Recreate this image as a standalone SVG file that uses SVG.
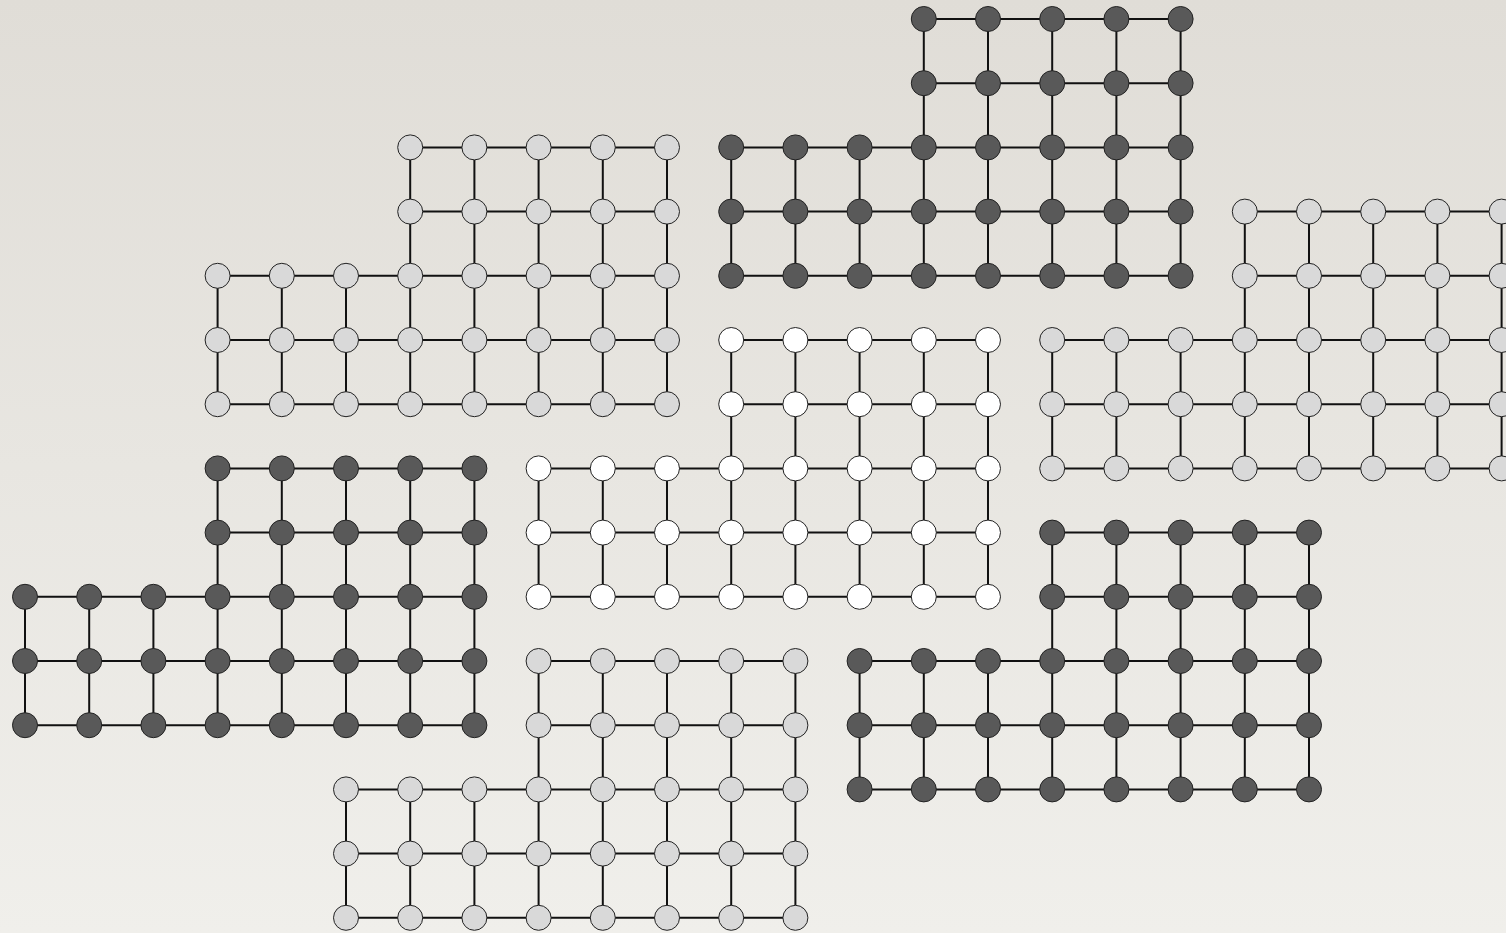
<svg xmlns="http://www.w3.org/2000/svg" xmlns:xlink="http://www.w3.org/1999/xlink" width="1506" height="933" viewBox="0 0 1506 933">
<defs>
<linearGradient id="bg" x1="0" y1="0" x2="0" y2="1">
<stop offset="0" stop-color="#e0ddd7"/>
<stop offset="1" stop-color="#f0efeb"/>
</linearGradient>
<path id="lat" d="M192.6 0H449.4M192.6 64.2H449.4M0 128.4H449.4M0 192.6H449.4M0 256.8H449.4M0 128.4V256.8M64.2 128.4V256.8M128.4 128.4V256.8M192.6 0V256.8M256.8 0V256.8M321 0V256.8M385.2 0V256.8M449.4 0V256.8"/>
<g id="nodes">
<circle cx="192.6" cy="0" r="12.5"/><circle cx="256.8" cy="0" r="12.5"/><circle cx="321" cy="0" r="12.5"/><circle cx="385.2" cy="0" r="12.5"/><circle cx="449.4" cy="0" r="12.5"/>
<circle cx="192.6" cy="64.2" r="12.5"/><circle cx="256.8" cy="64.2" r="12.5"/><circle cx="321" cy="64.2" r="12.5"/><circle cx="385.2" cy="64.2" r="12.5"/><circle cx="449.4" cy="64.2" r="12.5"/>
<circle cx="0" cy="128.4" r="12.5"/><circle cx="64.2" cy="128.4" r="12.5"/><circle cx="128.4" cy="128.4" r="12.5"/><circle cx="192.6" cy="128.4" r="12.5"/><circle cx="256.8" cy="128.4" r="12.5"/><circle cx="321" cy="128.4" r="12.5"/><circle cx="385.2" cy="128.4" r="12.5"/><circle cx="449.4" cy="128.4" r="12.5"/>
<circle cx="0" cy="192.6" r="12.5"/><circle cx="64.2" cy="192.6" r="12.5"/><circle cx="128.4" cy="192.6" r="12.5"/><circle cx="192.6" cy="192.6" r="12.5"/><circle cx="256.8" cy="192.6" r="12.5"/><circle cx="321" cy="192.6" r="12.5"/><circle cx="385.2" cy="192.6" r="12.5"/><circle cx="449.4" cy="192.6" r="12.5"/>
<circle cx="0" cy="256.8" r="12.5"/><circle cx="64.2" cy="256.8" r="12.5"/><circle cx="128.4" cy="256.8" r="12.5"/><circle cx="192.6" cy="256.8" r="12.5"/><circle cx="256.8" cy="256.8" r="12.5"/><circle cx="321" cy="256.8" r="12.5"/><circle cx="385.2" cy="256.8" r="12.5"/><circle cx="449.4" cy="256.8" r="12.5"/>
</g>
</defs>
<style>
.edge{fill:none;stroke:#111;stroke-width:2}
.node{stroke:#222;stroke-width:1}
.dark{fill:#595959}
.light{fill:#d9d9d9}
.white{fill:#ffffff}
</style>
<rect width="1506" height="933" fill="url(#bg)"/>
<g id="connectors" class="edge">
<use xlink:href="#lat" href="#lat" transform="translate(731.2 19)"/>
<use xlink:href="#lat" href="#lat" transform="translate(217.6 147.4)"/>
<use xlink:href="#lat" href="#lat" transform="translate(538.6 340)"/>
<use xlink:href="#lat" href="#lat" transform="translate(1052.2 211.6)"/>
<use xlink:href="#lat" href="#lat" transform="translate(25 468.4)"/>
<use xlink:href="#lat" href="#lat" transform="translate(859.6 532.6)"/>
<use xlink:href="#lat" href="#lat" transform="translate(346 661)"/>
</g>
<g id="lattice-dark-top" class="node dark"><use xlink:href="#nodes" href="#nodes" transform="translate(731.2 19)"/></g>
<g id="lattice-light-upper-left" class="node light"><use xlink:href="#nodes" href="#nodes" transform="translate(217.6 147.4)"/></g>
<g id="lattice-white-center" class="node white"><use xlink:href="#nodes" href="#nodes" transform="translate(538.6 340)"/></g>
<g id="lattice-light-right" class="node light"><use xlink:href="#nodes" href="#nodes" transform="translate(1052.2 211.6)"/></g>
<g id="lattice-dark-left" class="node dark"><use xlink:href="#nodes" href="#nodes" transform="translate(25 468.4)"/></g>
<g id="lattice-dark-lower-right" class="node dark"><use xlink:href="#nodes" href="#nodes" transform="translate(859.6 532.6)"/></g>
<g id="lattice-light-bottom" class="node light"><use xlink:href="#nodes" href="#nodes" transform="translate(346 661)"/></g>
</svg>
